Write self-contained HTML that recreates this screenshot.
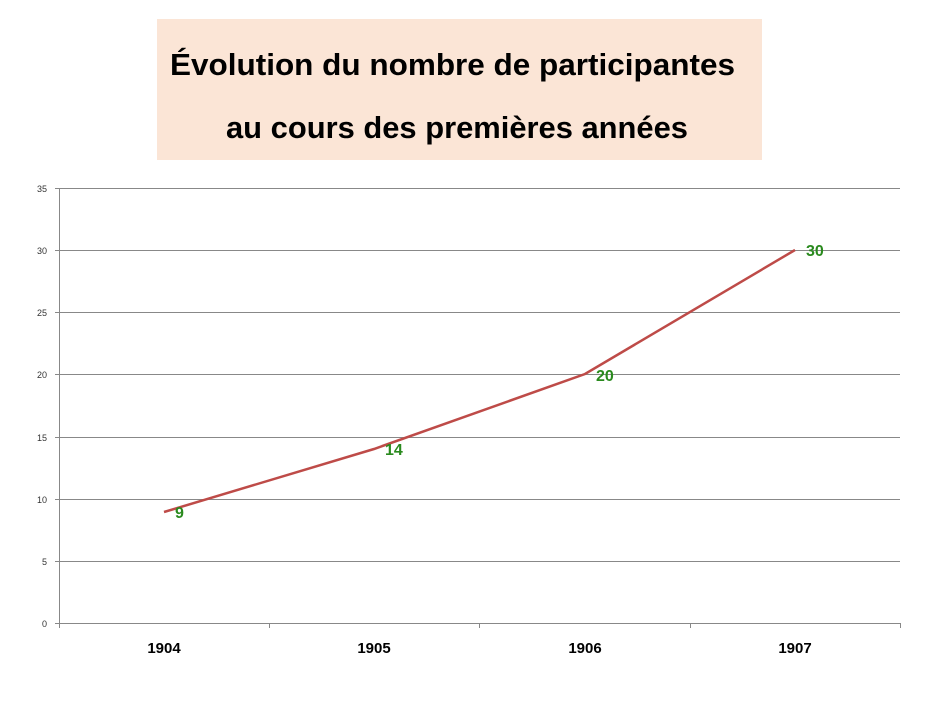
<!DOCTYPE html>
<html><head><meta charset="utf-8"><style>html,body{margin:0;padding:0;background:#fff}</style></head>
<body>
<svg width="933" height="700" viewBox="0 0 933 700" xmlns="http://www.w3.org/2000/svg" font-family="Liberation Sans, DejaVu Sans, sans-serif">
<rect x="157" y="19" width="605" height="141" fill="#fbe5d6"/>
<text x="170" y="75" font-size="31" font-weight="bold" textLength="565" lengthAdjust="spacingAndGlyphs" fill="#000">Évolution du nombre de participantes</text>
<text x="226" y="138" font-size="31" font-weight="bold" textLength="462" lengthAdjust="spacingAndGlyphs" fill="#000">au cours des premières années</text>
<g stroke="#888" stroke-width="1">
<line x1="55" y1="188.5" x2="900" y2="188.5"/>
<line x1="55" y1="250.5" x2="900" y2="250.5"/>
<line x1="55" y1="312.5" x2="900" y2="312.5"/>
<line x1="55" y1="374.5" x2="900" y2="374.5"/>
<line x1="55" y1="437.5" x2="900" y2="437.5"/>
<line x1="55" y1="499.5" x2="900" y2="499.5"/>
<line x1="55" y1="561.5" x2="900" y2="561.5"/>
<line x1="55" y1="623.5" x2="900" y2="623.5"/>
<line x1="59.5" y1="188" x2="59.5" y2="628"/>
<line x1="269.5" y1="623" x2="269.5" y2="628"/>
<line x1="479.5" y1="623" x2="479.5" y2="628"/>
<line x1="690.5" y1="623" x2="690.5" y2="628"/>
<line x1="900.5" y1="623" x2="900.5" y2="628"/>
</g>
<g font-size="9" fill="#333" text-anchor="end">
<text x="47" y="192">35</text><text x="47" y="254">30</text><text x="47" y="316">25</text>
<text x="47" y="378">20</text><text x="47" y="441">15</text><text x="47" y="503">10</text>
<text x="47" y="565">5</text><text x="47" y="627">0</text>
</g>
<g font-size="15" font-weight="bold" fill="#000" text-anchor="middle">
<text x="164" y="653">1904</text><text x="374" y="653">1905</text><text x="585" y="653">1906</text><text x="795" y="653">1907</text>
</g>
<polyline points="164,512 374,449 585,374 795,250" fill="none" stroke="#be4b48" stroke-width="2.5"/>
<g font-size="16" font-weight="bold" fill="#2a8a1e">
<text x="175" y="518">9</text><text x="385" y="455">14</text><text x="596" y="381">20</text><text x="806" y="256">30</text>
</g>
</svg>
</body></html>
